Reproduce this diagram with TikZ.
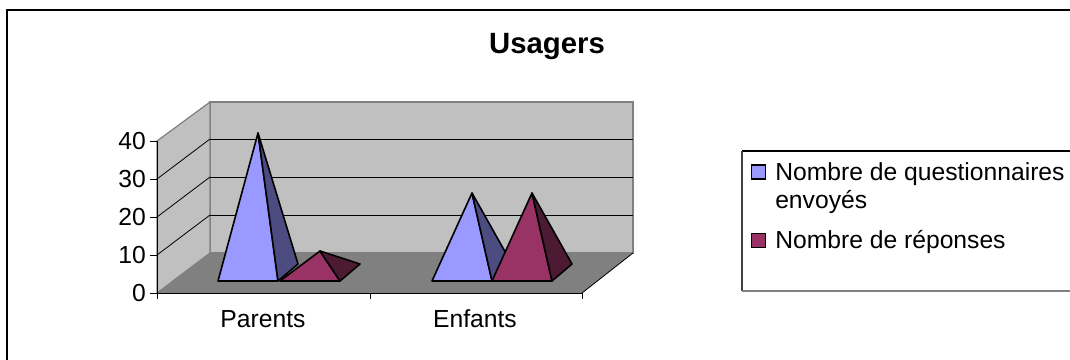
\documentclass[tikz,border=0pt]{standalone}
\usepackage{fontspec}
\setmainfont{Liberation Sans}
\usetikzlibrary{positioning}

\definecolor{wallgray}{HTML}{C0C0C0}
\definecolor{floorgray}{HTML}{808080}
\definecolor{lilac}{HTML}{9999FF}
\definecolor{lilacdark}{HTML}{4C4C80}
\definecolor{plum}{HTML}{993366}
\definecolor{plumdark}{HTML}{4C1A33}

\begin{document}
\begin{tikzpicture}[x=0.75pt, y=-0.75pt, font=\fontsize{18.5}{22}\selectfont,
    pyr/.style = {draw=black, line width=1.2pt, line join=round},
    grid/.style = {draw=black, line width=0.6pt},
    lab/.style = {inner sep=0pt}]
  \useasboundingbox (0,0) rectangle (1070,360);

  % outer frame of the chart
  \draw[line width=0.9pt] (7,360) -- (7,10) -- (1070,10);

  % title
  \node (title) [lab, anchor=base, font=\bfseries\fontsize{22}{26}\selectfont] at (547,54) {Usagers};

  % back wall
  \filldraw[fill=wallgray, draw=floorgray, line width=0.9pt] (210,102) rectangle (633,253);
  % side wall
  \filldraw[fill=wallgray, draw=floorgray, line width=0.9pt] (157,293) -- (157,141) -- (210,102) -- (210,253) -- cycle;
  % floor
  \fill[floorgray] (157,293) -- (210,253) -- (633,253) -- (582,293) -- cycle;
  \draw[grid] (582,293) -- (633,253);

  % grid lines on the back wall
  \draw[grid] (210,139) -- (633,139);
  \draw[grid] (210,177) -- (633,177);
  \draw[grid] (210,215) -- (633,215);
  % grid lines on the side wall
  \draw[grid] (157,179) -- (210,139);
  \draw[grid] (157,217) -- (210,177);
  \draw[grid] (157,255) -- (210,215);

  % value axis
  \draw[grid] (157,141) -- (157,293);
  \draw[grid] (150,141) -- (157,141);
  \draw[grid] (150,179) -- (157,179);
  \draw[grid] (150,217) -- (157,217);
  \draw[grid] (150,255) -- (157,255);
  \draw[grid] (150,293) -- (157,293);
  \node (v40) [lab, anchor=east] at (146,141) {40};
  \node (v30) [lab, anchor=east] at (146,179) {30};
  \node (v20) [lab, anchor=east] at (146,217) {20};
  \node (v10) [lab, anchor=east] at (146,255) {10};
  \node (v0)  [lab, anchor=east] at (146,293) {0};

  % category axis
  \draw[grid] (157,293) -- (582,293);
  \draw[grid] (157,293) -- (157,299);
  \draw[grid] (370,293) -- (370,299);
  \draw[grid] (582,293) -- (582,299);
  \node (parents) [lab, anchor=base] at (263,327) {Parents};
  \node (enfants) [lab, anchor=base] at (475,327) {Enfants};

  % Parents: questionnaires sent
  \filldraw[pyr, fill=lilac] (218,281) -- (278,281) -- (258,133) -- cycle;
  \filldraw[pyr, fill=lilacdark] (278,281) -- (298,264) -- (258,133) -- cycle;
  % Parents: answers
  \filldraw[pyr, fill=plum] (280,281) -- (340,281) -- (320,251) -- cycle;
  \filldraw[pyr, fill=plumdark] (340,281) -- (360,264) -- (320,251) -- cycle;

  % Enfants: questionnaires sent
  \filldraw[pyr, fill=lilac] (432,281) -- (492,281) -- (472,193) -- cycle;
  \filldraw[pyr, fill=lilacdark] (492,281) -- (512,264) -- (472,193) -- cycle;
  % Enfants: answers
  \filldraw[pyr, fill=plum] (492,281) -- (552,281) -- (532,193) -- cycle;
  \filldraw[pyr, fill=plumdark] (552,281) -- (572,264) -- (532,193) -- cycle;

  % legend box
  \draw[line width=0.9pt] (742,151) -- (1070,151);
  \draw[line width=0.9pt, draw=black!75] (742,151) -- (742,291);
  \draw[line width=1.2pt, draw=floorgray] (742,291) -- (1070,291);

  % legend entries
  \node (key1) [draw, line width=1.2pt, fill=lilac, inner sep=0pt, minimum size=10.5pt] at (758.5,172) {};
  \node (key2) [draw, line width=1.2pt, fill=plum, inner sep=0pt, minimum size=10.5pt] at (758.5,240.5) {};
  \node (sent) [lab, anchor=base west] at (775,180) {Nombre de questionnaires};
  \node (sent2) [lab, anchor=base west] at (775,208) {envoyés};
  \node (answers) [lab, anchor=base west] at (775,248) {Nombre de réponses};
\end{tikzpicture}
\end{document}
